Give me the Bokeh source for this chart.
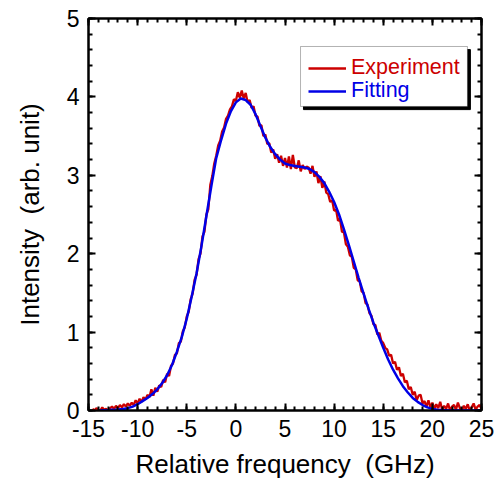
import numpy as np
from bokeh.plotting import figure
from bokeh.models import LinearAxis, Legend, LegendItem, BoxAnnotation, Range1d, FixedTicker
from bokeh.embed import file_html
from bokeh.resources import INLINE

# ---------------- data ----------------
exp_x_start = -14.6
exp_x_step = 0.2
experiment = [
    0.02, 0.00, 0.03, 0.01, 0.00, 0.04, 0.01, 0.02, 0.00, 0.03,
    0.05, 0.02, 0.06, 0.03, 0.07, 0.04, 0.08, 0.05, 0.09, 0.06,
    0.10, 0.07, 0.13, 0.09, 0.15, 0.11, 0.17, 0.14, 0.20, 0.17,
    0.27, 0.19, 0.29, 0.24, 0.32, 0.30, 0.39, 0.36, 0.47, 0.44,
    0.57, 0.60, 0.71, 0.73, 0.86, 0.88, 1.01, 1.06, 1.20, 1.26,
    1.42, 1.49, 1.67, 1.73, 1.93, 2.00, 2.22, 2.28, 2.50, 2.57,
    2.88, 2.99, 3.15, 3.25, 3.38, 3.44, 3.56, 3.61, 3.72, 3.76,
    3.84, 3.88, 3.97, 3.95, 4.06, 3.99, 4.08, 3.98, 4.05, 3.93,
    3.96, 3.86, 3.88, 3.76, 3.75, 3.63, 3.64, 3.50, 3.52, 3.40,
    3.41, 3.29, 3.33, 3.21, 3.27, 3.16, 3.25, 3.12, 3.22, 3.10,
    3.24, 3.08, 3.26, 3.10, 3.09, 3.19, 3.05, 3.13, 3.08, 3.11,
    3.10, 3.02, 3.12, 2.98, 3.05, 2.90, 2.99, 2.84, 2.92, 2.78,
    2.76, 2.66, 2.68, 2.55, 2.56, 2.42, 2.44, 2.28, 2.27, 2.12,
    2.09, 1.98, 1.96, 1.82, 1.80, 1.66, 1.65, 1.52, 1.50, 1.37,
    1.35, 1.24, 1.21, 1.10, 1.09, 0.97, 0.99, 0.89, 0.86, 0.80,
    0.78, 0.70, 0.71, 0.60, 0.62, 0.52, 0.55, 0.44, 0.47, 0.36,
    0.38, 0.27, 0.30, 0.20, 0.24, 0.13, 0.19, 0.20, 0.09, 0.12,
    0.05, 0.13, 0.04, 0.10, 0.02, 0.08, 0.03, 0.11, 0.01, 0.06,
    0.02, 0.09, 0.00, 0.05, 0.07, 0.01, 0.10, 0.03, 0.00, 0.06,
    0.02, 0.08, 0.00, 0.04, 0.09, 0.01, 0.05, 0.07, 0.02,
]
exp_x = [round(exp_x_start + exp_x_step * i, 2) for i in range(len(experiment))]

fit_x_start = -14.0
fit_x_step = 0.5
fitting = [
    0.00, 0.003, 0.005, 0.008, 0.012, 0.02, 0.03, 0.05, 0.08, 0.12,
    0.16, 0.21, 0.27, 0.35, 0.45, 0.58, 0.75, 0.94, 1.17, 1.45,
    1.75, 2.10, 2.48, 2.86, 3.22, 3.45, 3.66, 3.82, 3.93, 3.98,
    3.96, 3.90, 3.78, 3.63, 3.48, 3.36, 3.27, 3.20, 3.15, 3.13,
    3.12, 3.11, 3.10, 3.08, 3.04, 2.98, 2.90, 2.79, 2.66, 2.50,
    2.31, 2.11, 1.90, 1.69, 1.49, 1.30, 1.12, 0.96, 0.80, 0.65,
    0.52, 0.41, 0.31, 0.23, 0.16, 0.11, 0.07, 0.04, 0.02, 0.01,
    0.005, 0.002, 0.0, 0.0, 0.0, 0.0, 0.0, 0.0, 0.0,
]
fit_x = [round(fit_x_start + fit_x_step * i, 2) for i in range(len(fitting))]

x_ticks = [-15, -10, -5, 0, 5, 10, 15, 20, 25]
x_tick_labels = ["-15", "-10", "-5", "0", "5", "10", "15", "20", "25"]
y_ticks = [0, 1, 2, 3, 4, 5]
y_tick_labels = ["0", "1", "2", "3", "4", "5"]

RED = "#cc0000"
BLUE = "#0000e6"
FONT = "Liberation Sans"

p = figure(width=495, height=481, output_backend="svg", toolbar_location=None,
           x_range=Range1d(-15, 25), y_range=Range1d(0, 5),
           min_border_left=88, min_border_right=14, min_border_top=18, min_border_bottom=71)
p.grid.visible = False
p.outline_line_color = "black"
p.outline_line_width = 2

r_exp = p.line(exp_x, experiment, line_color=RED, line_width=2.3)
r_fit = p.line(fit_x, fitting, line_color=BLUE, line_width=2.5)

def style_axis(ax, labels=True):
    ax.axis_line_color = "black"
    ax.axis_line_width = 2
    ax.major_tick_in = 7
    ax.major_tick_out = 0
    ax.minor_tick_in = 4
    ax.minor_tick_out = 0
    ax.major_tick_line_width = 2
    ax.minor_tick_line_width = 2
    ax.major_label_text_font = FONT
    ax.major_label_text_font_size = "23px"
    ax.major_label_text_color = "black"
    ax.axis_label_text_font = FONT
    ax.axis_label_text_font_size = "26px"
    ax.axis_label_text_font_style = "normal"
    ax.axis_label_text_color = "black"
    if not labels:
        ax.major_label_text_font_size = "0px"
        ax.major_label_text_alpha = 0

x_minor = list(range(-15, 26))
y_minor = [round(0.2 * i, 1) for i in range(26)]

p.xaxis[0].ticker = FixedTicker(ticks=x_ticks, minor_ticks=x_minor)
p.yaxis[0].ticker = FixedTicker(ticks=y_ticks, minor_ticks=y_minor)
style_axis(p.xaxis[0])
style_axis(p.yaxis[0])
p.xaxis[0].major_label_overrides = {t: s for t, s in zip(x_ticks, x_tick_labels)}
p.yaxis[0].major_label_overrides = {t: s for t, s in zip(y_ticks, y_tick_labels)}
p.xaxis[0].axis_label = "Relative frequency \u00a0(GHz)"
p.yaxis[0].axis_label = "Intensity \u00a0(arb. unit)"
p.xaxis[0].major_label_standoff = 9
p.yaxis[0].major_label_standoff = 9
p.xaxis[0].axis_label_standoff = 9
p.yaxis[0].axis_label_standoff = 19

top = LinearAxis(ticker=FixedTicker(ticks=x_ticks, minor_ticks=x_minor))
style_axis(top, labels=False)
p.add_layout(top, "above")
right = LinearAxis(ticker=FixedTicker(ticks=y_ticks, minor_ticks=y_minor))
style_axis(right, labels=False)
p.add_layout(right, "right")

# legend frame with shadow
shadow = BoxAnnotation(left=6.88, right=23.87, top=4.603, bottom=3.838,
                       fill_color="black", fill_alpha=1, line_color="black", line_alpha=1, level="overlay")
box = BoxAnnotation(left=6.58, right=23.57, top=4.643, bottom=3.878,
                    fill_color="white", fill_alpha=1, line_color="black", line_width=1, level="overlay")
p.add_layout(shadow)
p.add_layout(box)

def make_legend(label, renderer, color, loc):
    lg = Legend(items=[LegendItem(label=label, renderers=[renderer])], location=loc,
                label_text_color=color, label_text_font=FONT, label_text_font_size="21.5px",
                border_line_alpha=0, background_fill_alpha=0, glyph_width=38, glyph_height=20,
                label_standoff=5, padding=0, margin=0, spacing=0, label_height=22)
    return lg

p.add_layout(make_legend("Experiment", r_exp, RED, (220, 330)))
p.add_layout(make_legend("Fitting", r_fit, BLUE, (220, 307)))

open("out.html", "w").write(file_html(p, INLINE))
